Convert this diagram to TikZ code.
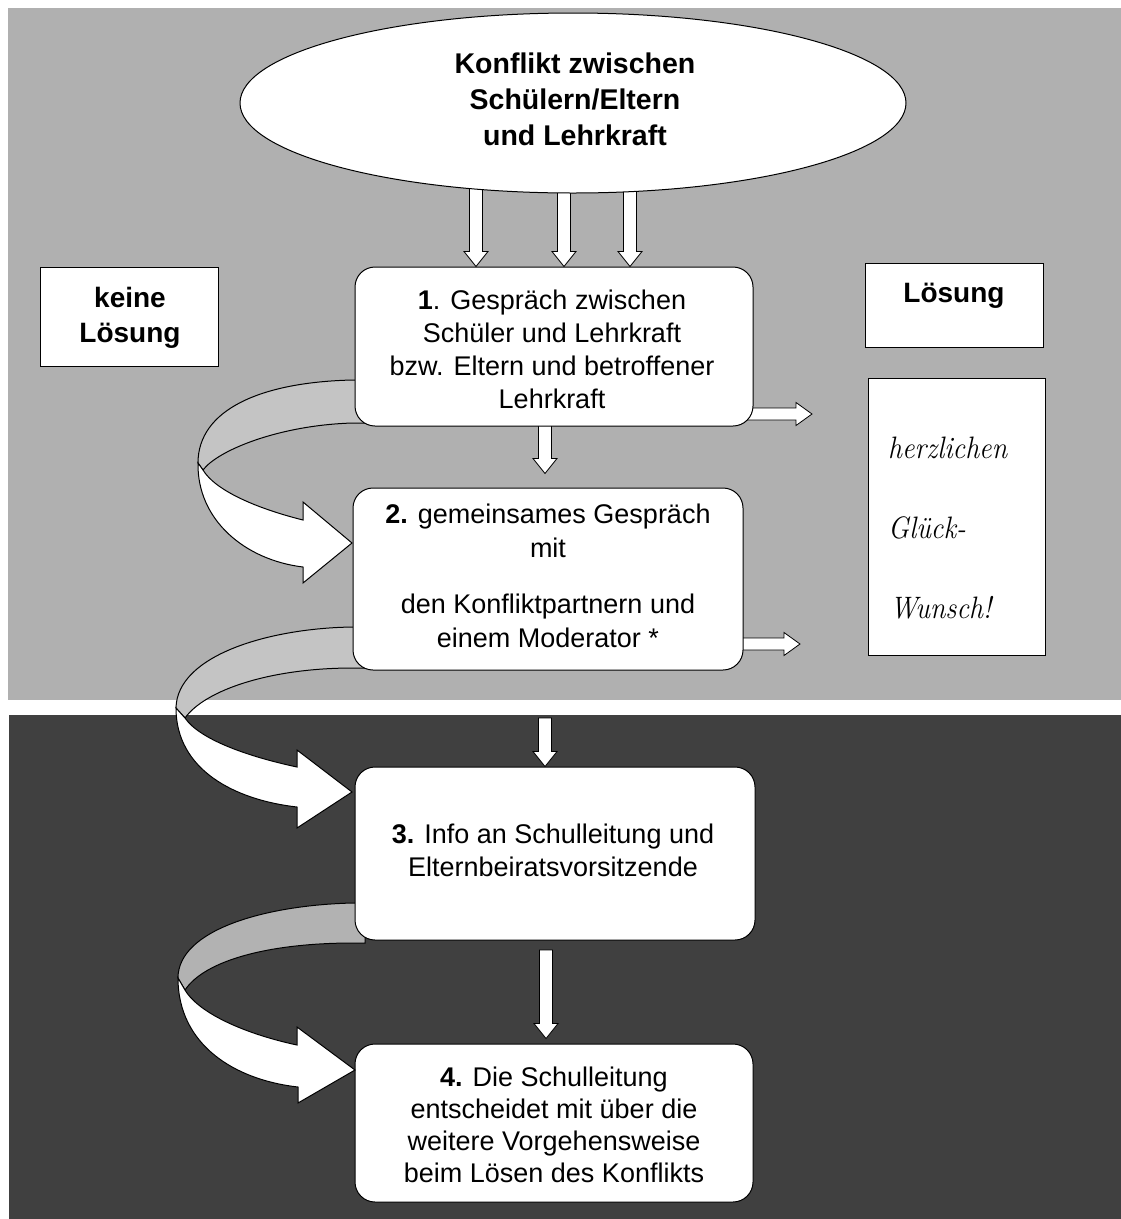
\documentclass[tikz,border=0pt]{standalone}
\usepackage{fontspec}
\newfontfamily\arial{Liberation Sans}
\usetikzlibrary{calc,shapes.geometric}
\pgfdeclarelayer{bg}
\pgfdeclarelayer{back}
\pgfsetlayers{bg,back,main}
\definecolor{bglight}{HTML}{B0B0B0}
\definecolor{bgdark}{HTML}{404040}
\definecolor{bandlight}{HTML}{C4C4C4}
\definecolor{banddark}{HTML}{B2B2B2}
\tikzset{
  proc/.style={draw=black, line width=1pt, fill=white, rounded corners=20pt, inner sep=0pt},
  plainbox/.style={draw=black, line width=1pt, fill=white, inner sep=0pt},
  txt/.style={font=\arial\fontsize{27}{33}\selectfont, align=center, inner sep=0pt},
  btxt/.style={font=\arial\bfseries\fontsize{28.5}{36}\selectfont, align=center, inner sep=0pt},
  scripttxt/.style={font=\rmfamily\itshape\fontsize{31}{31}\selectfont, inner sep=0pt, anchor=base west},
  blk/.style={draw=black, line width=0.8pt, fill=white, line join=miter},
  band/.style={draw=black, line width=1pt},
}
\newcommand\downblock[2]{%
  \draw[blk] let \p1=#1, \p2=#2 in
    (\x1-6.5pt,\y1) -- (\x1-6.5pt,\y2+15pt) -- (\x1-12pt,\y2+15pt) -- (\x1,\y2)
    -- (\x1+12pt,\y2+15pt) -- (\x1+6.5pt,\y2+15pt) -- (\x1+6.5pt,\y1) -- cycle;}
\newcommand\rightblock[2]{%
  \draw[blk] let \p1=#1, \p2=#2 in
    (\x1,\y1+6pt) -- (\x2-16pt,\y1+6pt) -- (\x2-16pt,\y1+11.5pt) -- (\x2,\y1)
    -- (\x2-16pt,\y1-11.5pt) -- (\x2-16pt,\y1-6pt) -- (\x1,\y1-6pt) -- cycle;}
\begin{document}
\begin{tikzpicture}[x=1pt,y=-1pt]
\useasboundingbox (0,0) rectangle (1121,1219);
% ---------- backgrounds
\begin{pgfonlayer}{bg}
  \fill[white] (0,0) rectangle (1121,1219);
  \fill[bglight] (8,8) rectangle (1121,700);
  \fill[bgdark] (9,715) rectangle (1121,1219);
\end{pgfonlayer}

% ---------- nodes
\node[ellipse, draw=black, line width=1pt, fill=white, minimum width=666pt, minimum height=180pt, inner sep=0pt] (konf) at (573,103) {};
\node[btxt] (konft) at (575,99) {Konflikt zwischen\\Schülern/Eltern\\und Lehrkraft};

\node[proc, minimum width=398pt, minimum height=159pt] (b1) at (554,346.5) {};
\node[txt] (b1t) at (552,349) {\textbf{1}. Gespräch zwischen\\Schüler und Lehrkraft\\bzw. Eltern und betroffener\\Lehrkraft};

\node[proc, minimum width=390pt, minimum height=182pt] (b2) at (548,579) {};
\node[txt, font=\arial\fontsize{27}{34}\selectfont] (b2t) at (548,576) {\textbf{2.} gemeinsames Gespräch\\mit\\[22pt]den Konfliktpartnern und\\einem Moderator *};

\node[proc, minimum width=400pt, minimum height=173pt] (b3) at (555,853.5) {};
\node[txt] (b3t) at (553,850) {\textbf{3.} Info an Schulleitung und\\Elternbeiratsvorsitzende};

\node[proc, minimum width=398pt, minimum height=158pt] (b4) at (554,1123) {};
\node[txt, font=\arial\fontsize{27}{32}\selectfont] (b4t) at (554,1125) {\textbf{4.} Die Schulleitung\\entscheidet mit über die\\weitere Vorgehensweise\\beim Lösen des Konflikts};

\node[plainbox, minimum width=178pt, minimum height=99pt] (keine) at (129,316.5) {};
\node[btxt, font=\arial\bfseries\fontsize{28}{35}\selectfont] (keinet) at (130,318) {keine\\Lösung};

\node[plainbox, minimum width=178pt, minimum height=84pt] (loes) at (954,305) {};
\node[btxt, font=\arial\bfseries\fontsize{28}{35}\selectfont] (loest) at (954,296) {Lösung};

\node[plainbox, minimum width=177pt, minimum height=277pt] (glueck) at (956.5,516.5) {};
\node[scripttxt] (g1) at (888,458) {\scalebox{0.9}[1]{herzlichen}};
\node[scripttxt] (g2) at (888,538) {\scalebox{0.9}[1]{Glück-}};
\node[scripttxt] (g3) at (890,618) {\scalebox{0.9}[1]{Wunsch!}};

% ---------- coordinates for connectors
\coordinate (d1) at (476,185);
\coordinate (d2) at (564,185);
\coordinate (d3) at (630,185);
\coordinate (x545) at (545,0);
\coordinate (s23) at (545,718);
\coordinate (s34) at (546,950);
\coordinate (r1) at (812,414);
\coordinate (r2) at (800,644);

% ---------- straight block arrows (behind boxes)
\begin{pgfonlayer}{back}
  \downblock{(d1)}{(d1 |- b1.north)}
  \downblock{(d2)}{(d2 |- b1.north)}
  \downblock{(d3)}{(d3 |- b1.north)}
  \downblock{($(x545 |- b1.south)+(0,-3)$)}{($(x545 |- b2.north)+(0,-14)$)}
  \downblock{(s23)}{(s23 |- b3.north)}
  \downblock{(s34)}{($(s34 |- b4.north)+(0,-5)$)}
  \rightblock{($(b1.east |- r1)+(-15,0)$)}{(r1)}
  \rightblock{($(b2.east |- r2)+(-10,0)$)}{(r2)}

  % back bands of the curved arrows
  \draw[band, fill=bandlight] (365,380) -- (353,380) .. controls (260,382) and (198,410) .. (198,463)
     -- (203,470) .. controls (218,450) and (280,425) .. (353,423) -- (365,423) -- cycle;
  \draw[band, fill=bandlight] (365,627) -- (353,627) .. controls (270,628) and (177,655) .. (176,708)
     -- (185,718) .. controls (205,690) and (270,668) .. (353,668) -- (365,668) -- cycle;
  \draw[band, fill=banddark] (365,903) -- (353,903) .. controls (265,905) and (178,930) .. (178,978)
     -- (185,990) .. controls (205,960) and (270,943) .. (353,943) -- (365,943) -- cycle;
\end{pgfonlayer}

% ---------- front bands of the curved arrows
\draw[band, fill=white, line join=miter] (198,463) .. controls (197,520) and (245,560) .. (303,567)
   -- (303,583) -- (352,543) -- (303,502) -- (303,520)
   .. controls (255,508) and (215,490) .. (203,470) -- cycle;
\draw[band, fill=white, line join=miter] (176,708) .. controls (176,770) and (235,800) .. (297,807)
   -- (297,828) -- (352,792) -- (297,750) -- (297,767)
   .. controls (250,757) and (200,740) .. (185,718) -- cycle;
\draw[band, fill=white, line join=miter] (178,978) .. controls (178,1045) and (235,1080) .. (298,1087)
   -- (298,1103) -- (355,1070) -- (297,1027) -- (297,1045)
   .. controls (250,1035) and (200,1015) .. (185,990) -- cycle;
\end{tikzpicture}
\end{document}
